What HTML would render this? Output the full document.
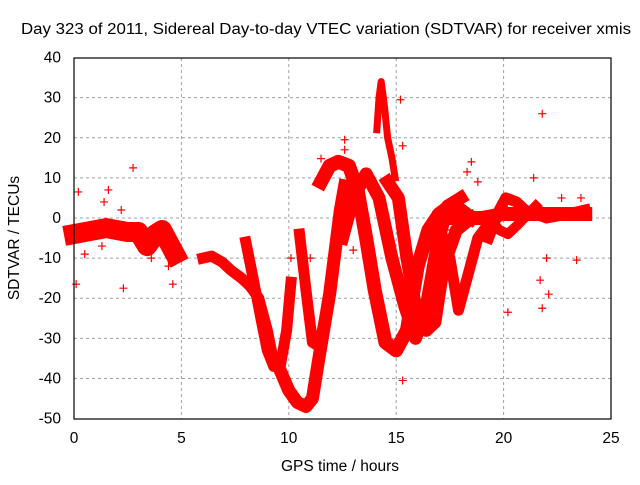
<!DOCTYPE html>
<html><head><meta charset="utf-8"><style>
body{margin:0;background:#fff}
svg text{font-family:"Liberation Sans",sans-serif;font-size:15.5px;fill:#000}
</style></head><body>
<svg id="c" width="640" height="480" viewBox="0 0 640 480">
<rect width="640" height="480" fill="#fff"/>
<text x="21" y="34" textLength="610" lengthAdjust="spacingAndGlyphs">Day 323 of 2011, Sidereal Day-to-day VTEC variation (SDTVAR) for receiver xmis</text>
<g id="grid"></g>
<g id="marks"></g>
<rect x="74" y="58" width="537" height="361" fill="none" stroke="#000" stroke-width="1.2"/>
<g id="axes"></g>
<text x="340" y="471" text-anchor="middle">GPS time / hours</text>
<text transform="translate(19,238) rotate(-90)" text-anchor="middle">SDTVAR / TECUs</text>
</svg>
<script>
const xTicks=[0,5,10,15,20,25];
const yTicks=[40,30,20,10,0,-10,-20,-30,-40,-50];
const trackTimes=[
 [0,0.5,1,1.5,2,2.5,3,3.4,3.8,4.1,4.4,4.7],
 [6,6.4,6.9,7.3,7.8,8.2,8.6,9.0,9.3,9.6],
 [8.0,8.3,8.7,9.0,9.3,9.6,9.9,10.1],
 [9.6,10.0,10.4,10.8,11.1,11.4,11.9,12.4,12.6],
 [10.5,10.8,11.1,11.4,11.8,12.2,12.6],
 [11.5,11.9,12.3,12.8,13.2,13.6,14.0,14.5,15.0,15.5,16.0,16.5,17.0,17.5,18.0,18.5],
 [12.5,13.0,13.6,14.2,14.8,15.4,15.9,16.4,16.9,17.4,18.0],
 [14.6,15.1,15.5,16.0,16.4,16.8,17.2,17.8,18.5],
 [17.0,17.5,17.9,18.3,18.8,19.5,20.0],
 [19.3,19.8,20.1,20.6,21.0,22.0,23.0,23.8],
 [19.3,19.8,20.2,20.6,21.5],
 [17.0,18.0,19.0,20.0,21.0,22.0,23.0,23.8],
 [14.1,14.2,14.3,14.45,14.6,14.8,14.95]
];
const trackValues=[
 [-4,-3.5,-3,-2.5,-3,-3.5,-3.5,-7,-4,-3,-6,-9],
 [-10,-9.5,-11,-13,-15,-17,-20,-28,-36,-38],
 [-6,-14,-25,-33,-37,-37,-28,-16],
 [-38,-43,-46,-47,-45,-35,-19,2,8],
 [-4,-18,-31,-32,-22,-5,8],
 [9,13,14,13,7,-5,-18,-31,-33,-28,-12,-3,1,3,2,0],
 [-5,5,11,5,-10,-22,-30,-22,-7,3,5],
 [9,5,-10,-25,-28,-26,-12,-3,0],
 [-2,-10,-23,-15,-5,0,2],
 [-5,2,5,4,2,0,1,2],
 [0,-3,-4,-2,3],
 [0,0,0,1,1,1,1,1],
 [22,30,34,28,20,15,10]
];
const trackWidths=[20,11,11,13,11,14,13,13,11,11,10,14,7];
const outT=[0.2,0.1,1.6,2.3,2.75,1.4,2.2,4.6,11.5,12.6,12.6,15.2,15.3,15.3,18.3,18.5,18.8,21.8,21.8,22.1,21.7,22.0,23.4,20.2,11.0,10.1,21.4,22.7,23.6,0.5,1.3,3.6,4.4,13.0,16.6,17.6];
const outV=[6.5,-16.5,7,-17.5,12.5,4,2,-16.5,14.8,19.5,17,29.5,18,-40.5,11.5,14,9,26,-22.5,-19,-15.5,-10,-10.5,-23.5,-10,-10,10,5,5,-9,-7,-10,-12,-8,-12,-3];
const X=t=>74+t*(537/25);
const Y=v=>218-v*(361/90);
const NS="http://www.w3.org/2000/svg";
const grid=document.getElementById('grid'),axes=document.getElementById('axes'),marks=document.getElementById('marks');
xTicks.forEach(t=>{
 if(t>0&&t<25){const l=document.createElementNS(NS,'line');l.setAttribute('x1',X(t));l.setAttribute('x2',X(t));l.setAttribute('y1',58);l.setAttribute('y2',419);l.setAttribute('stroke','#a0a0a0');l.setAttribute('stroke-dasharray','3,3');
 
 
 grid.appendChild(l);}
 const tx=document.createElementNS(NS,'text');tx.setAttribute('x',X(t));tx.setAttribute('y',443);tx.setAttribute('text-anchor','middle');tx.textContent=t;
 
 
 axes.appendChild(tx);
});
yTicks.forEach(v=>{
 if(v<40&&v>-50){const l=document.createElementNS(NS,'line');l.setAttribute('x1',74);l.setAttribute('x2',611);l.setAttribute('y1',Y(v));l.setAttribute('y2',Y(v));l.setAttribute('stroke','#a0a0a0');l.setAttribute('stroke-dasharray','3,3');
 
 
 grid.appendChild(l);}
 const tx=document.createElementNS(NS,'text');tx.setAttribute('x',61);tx.setAttribute('y',Y(v)+5);tx.setAttribute('text-anchor','end');tx.textContent=v;
 
 
 axes.appendChild(tx);
});
trackTimes.forEach((ts,i)=>{
 const p=document.createElementNS(NS,'polyline');
 p.setAttribute('points',ts.map((t,j)=>X(t)+','+Y(trackValues[i][j])).join(' '));
 p.setAttribute('fill','none');p.setAttribute('stroke','#f00');p.setAttribute('stroke-width',trackWidths[i]);p.setAttribute('stroke-linejoin','round');p.setAttribute('stroke-linecap','square');
 
 
 marks.appendChild(p);
});
outT.forEach((t,i)=>{
 const x=X(t),y=Y(outV[i]);
 const p=document.createElementNS(NS,'path');
 p.setAttribute('d',`M${x-4},${y}H${x+4}M${x},${y-4}V${y+4}`);
 p.setAttribute('stroke','#f00');p.setAttribute('stroke-width','1.2');
 
 
 marks.appendChild(p);
});
</script>
</body></html>
